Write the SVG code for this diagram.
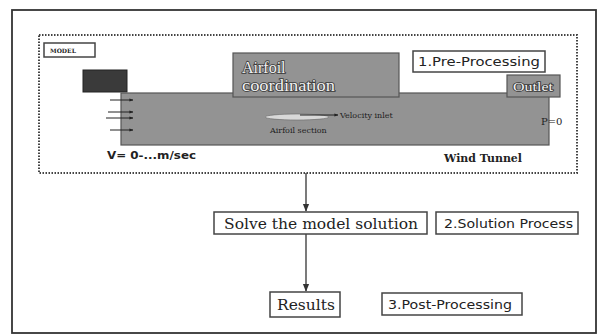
<svg xmlns="http://www.w3.org/2000/svg" width="598" height="336" viewBox="0 0 598 336">
<style>
.box{fill:#fff;stroke:#444;stroke-width:1.5}
.gray{fill:#939393;stroke:#555;stroke-width:1.2}
.sans{font-family:"DejaVu Sans","Liberation Sans",sans-serif;fill:#222}
.serif{font-family:"DejaVu Serif","Liberation Serif",serif;fill:#222}
.light{font-family:"Liberation Serif","DejaVu Serif",serif;fill:#f2f2f2;stroke:#3a3a3a;stroke-width:1.6;paint-order:stroke}
.conn{stroke:#333;stroke-width:1.3;fill:none}
.small{stroke:#222;stroke-width:1;fill:none}
</style>
<defs>
<marker id="ah" viewBox="0 0 10 10" refX="9" refY="5" markerWidth="6" markerHeight="6" orient="auto">
<path d="M0,1 L10,5 L0,9 z" fill="#333"/>
</marker>
<marker id="sa" viewBox="0 0 10 10" refX="9" refY="5" markerWidth="4" markerHeight="4" orient="auto">
<path d="M0,1 L10,5 L0,9 z" fill="#222"/>
</marker>
</defs>
<rect width="598" height="336" fill="#fff"/>
<rect x="12" y="10" width="584" height="323" fill="none" stroke="#333" stroke-width="1.8"/>
<g id="model">
<rect x="39" y="35" width="538" height="138" fill="none" stroke="#444" stroke-width="2" stroke-dasharray="1.5,1.5"/>
<rect x="44" y="43" width="51" height="14" class="box" stroke-width="1.2"/>
<text x="50" y="53" class="serif" font-size="6" font-weight="bold">MODEL</text>
<rect x="83" y="70" width="44" height="22" fill="#3a3a3a" stroke="#222"/>
<rect x="121" y="93" width="428" height="52" class="gray"/>
<g id="inlet-arrows">
<line x1="110" y1="100" x2="133" y2="100" class="small" marker-end="url(#sa)"/>
<line x1="108" y1="112" x2="133" y2="112" class="small" marker-end="url(#sa)"/>
<line x1="106" y1="118" x2="133" y2="118" class="small" marker-end="url(#sa)"/>
<line x1="110" y1="130" x2="133" y2="130" class="small" marker-end="url(#sa)"/>
</g>
<ellipse cx="297" cy="117" rx="32" ry="3" fill="#d8d8d8" stroke="#666" stroke-width="0.6"/>
<line x1="300" y1="115" x2="338" y2="115" class="small" marker-end="url(#sa)"/>
<text x="340" y="118" class="serif" font-size="8" fill="#444">Velocity inlet</text>
<text x="270" y="133" class="serif" font-size="8" fill="#333">Airfoil section</text>
<text x="541" y="125" class="serif" font-size="10" fill="#222">P=0</text>
<text x="107" y="159" class="sans" font-size="11" font-weight="bold" textLength="89" lengthAdjust="spacingAndGlyphs">V= 0-...m/sec</text>
<text x="444" y="162" class="serif" font-size="11" font-weight="bold" textLength="78" lengthAdjust="spacingAndGlyphs">Wind Tunnel</text>
</g>
<g id="airfoil">
<rect x="233" y="53" width="166" height="44" class="gray"/>
<text x="242" y="73" class="light" font-size="16">Airfoil</text>
<text x="242" y="91" class="light" font-size="16" textLength="93" lengthAdjust="spacingAndGlyphs">coordination</text>
</g>
<g id="outlet">
<rect x="507" y="75" width="53" height="22" class="gray"/>
<text x="513" y="91" class="light" font-size="12" textLength="40" lengthAdjust="spacingAndGlyphs">Outlet</text>
</g>
<g id="preproc">
<rect x="413" y="51" width="132" height="21" class="box"/>
<text x="418" y="66" class="sans" font-size="12.5" textLength="122" lengthAdjust="spacingAndGlyphs">1.Pre-Processing</text>
</g>
<g id="connectors">
<line x1="306" y1="173" x2="306" y2="211" class="conn" marker-end="url(#ah)"/>
<line x1="306" y1="234" x2="306" y2="291" class="conn" marker-end="url(#ah)"/>
</g>
<g id="solve">
<rect x="214" y="212" width="213" height="22" class="box"/>
<text x="224" y="229" class="serif" font-size="15" textLength="194" lengthAdjust="spacingAndGlyphs">Solve the model solution</text>
</g>
<g id="solproc">
<rect x="436" y="212" width="142" height="22" class="box"/>
<text x="444" y="228" class="sans" font-size="12.5" textLength="129" lengthAdjust="spacingAndGlyphs">2.Solution Process</text>
</g>
<g id="results">
<rect x="270" y="292" width="70" height="25" class="box"/>
<text x="277" y="310" class="serif" font-size="14.5" textLength="58" lengthAdjust="spacingAndGlyphs">Results</text>
</g>
<g id="postproc">
<rect x="382" y="293" width="140" height="22" class="box"/>
<text x="388" y="309" class="sans" font-size="12.5" textLength="124" lengthAdjust="spacingAndGlyphs">3.Post-Processing</text>
</g>
</svg>
